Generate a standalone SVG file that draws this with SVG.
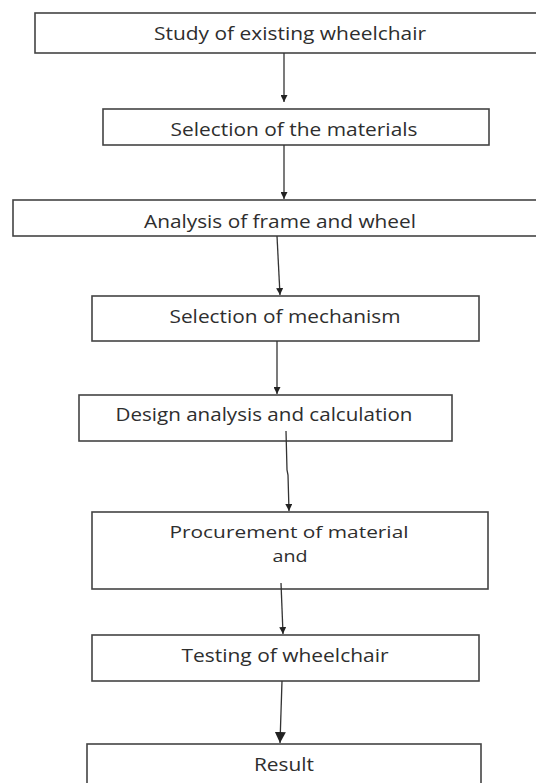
<svg xmlns="http://www.w3.org/2000/svg" width="536" height="783" viewBox="0 0 536 783">
<defs>
<marker id="ah" viewBox="0 0 10 10" refX="10" refY="5" markerWidth="7" markerHeight="7" markerUnits="userSpaceOnUse" orient="auto"><path d="M0,0 L10,5 L0,10 Z" fill="#222"/></marker>
<marker id="ahb" viewBox="0 0 10 10" refX="10" refY="5" markerWidth="11" markerHeight="11" markerUnits="userSpaceOnUse" orient="auto"><path d="M0,0 L10,5 L0,10 Z" fill="#222"/></marker>
</defs>
<style>
.box{fill:#fff;stroke:#444;stroke-width:1.6}
.t{font-family:"Open Sans","Liberation Sans",sans-serif;font-size:19px;fill:#2e2e2e;text-anchor:middle}
.s{font-size:17px}
.c{fill:none;stroke:#333;stroke-width:1.3}
</style>
<rect width="536" height="783" fill="#fff"/>
<g id="n1"><rect class="box" x="35" y="13" width="520" height="40"/><text class="t" x="290" y="40" textLength="272" lengthAdjust="spacingAndGlyphs">Study of existing wheelchair</text></g>
<g id="n2"><rect class="box" x="103" y="109" width="386" height="36"/><text class="t" x="294" y="136" textLength="247" lengthAdjust="spacingAndGlyphs">Selection of the materials</text></g>
<g id="n3"><rect class="box" x="13" y="200" width="540" height="36"/><text class="t" x="280" y="228" textLength="272" lengthAdjust="spacingAndGlyphs">Analysis of frame and wheel</text></g>
<g id="n4"><rect class="box" x="92" y="296" width="387" height="45"/><text class="t" x="285" y="323" textLength="231" lengthAdjust="spacingAndGlyphs">Selection of mechanism</text></g>
<g id="n5"><rect class="box" x="79" y="395" width="373" height="46"/><text class="t" x="264" y="421" textLength="297" lengthAdjust="spacingAndGlyphs">Design analysis and calculation</text></g>
<g id="n6"><rect class="box" x="92" y="512" width="396" height="77"/><text class="t s" x="289" y="538" textLength="239" lengthAdjust="spacingAndGlyphs">Procurement of material</text><text class="t s" x="290" y="562" textLength="35" lengthAdjust="spacingAndGlyphs">and</text></g>
<g id="n7"><rect class="box" x="92" y="635" width="387" height="46"/><text class="t" x="285" y="662" textLength="207" lengthAdjust="spacingAndGlyphs">Testing of wheelchair</text></g>
<g id="n8"><rect class="box" x="87" y="744" width="394" height="50"/><text class="t" x="284" y="771" textLength="60" lengthAdjust="spacingAndGlyphs">Result</text></g>
<g id="connectors">
<path class="c" d="M284,53 L284,102" marker-end="url(#ah)"/>
<path class="c" d="M284,145 L284,199" marker-end="url(#ah)"/>
<path class="c" d="M277,236 L280,295" marker-end="url(#ah)"/>
<path class="c" d="M277,341 L277,394" marker-end="url(#ah)"/>
<path class="c" d="M286,431 L287,470 L288,475 L289,511" marker-end="url(#ah)"/>
<path class="c" d="M281,583 L283,634" marker-end="url(#ah)"/>
<path class="c" d="M282,681 L280,743" stroke-width="2" marker-end="url(#ahb)"/>
</g>
</svg>
